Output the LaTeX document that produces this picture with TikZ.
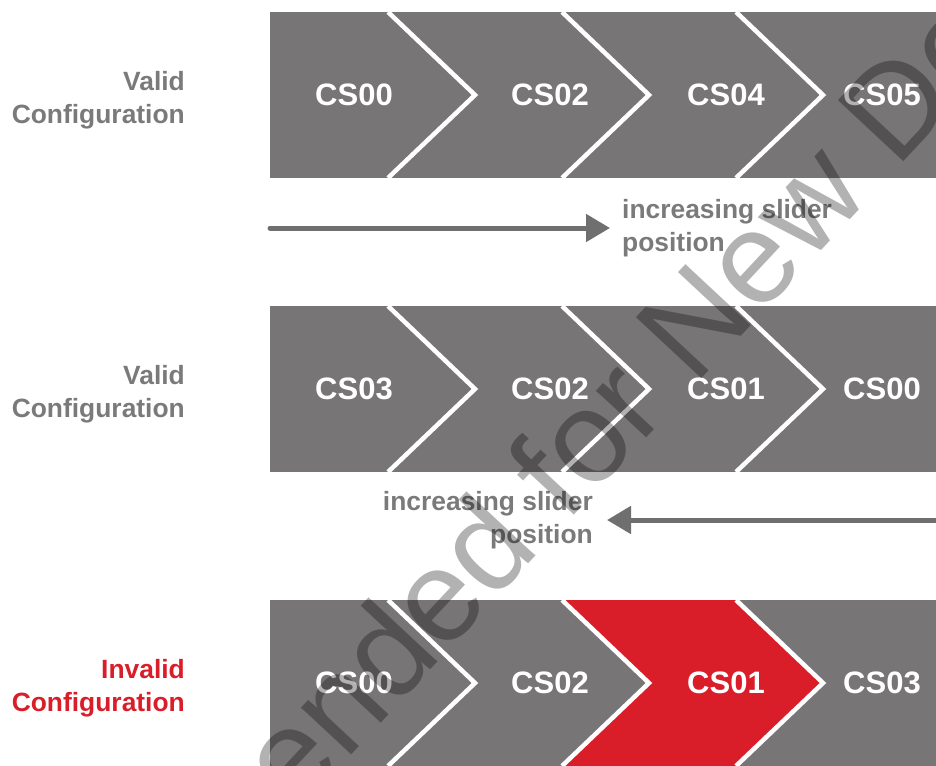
\documentclass[tikz,border=0pt]{standalone}
\usepackage{fontspec}
\setmainfont{Liberation Sans}
\usepackage{tikz}
\usetikzlibrary{arrows.meta}
\usetikzlibrary{positioning}
\definecolor{bandgray}{RGB}{120,117,118}
\definecolor{textgray}{RGB}{122,122,122}
\definecolor{arrowgray}{RGB}{112,111,111}
\definecolor{badred}{RGB}{217,30,42}
\tikzset{
 band/.style={fill=bandgray},
 divider/.style={white,line width=4.5pt},
 cslabel/.style={text=white,inner sep=0,font=\bfseries\fontsize{31}{31}\selectfont},
 rowlabel/.style={inner sep=0,align=right,font=\bfseries\fontsize{26.4}{33}\selectfont},
 slidearrow/.style={arrowgray,line width=5pt,line cap=round,-{Triangle[length=24pt,width=27pt]}},
 slidelabel/.style={text=textgray,inner sep=0,font=\bfseries\fontsize{26.4}{33}\selectfont},
 watermark/.style={black,opacity=.3,inner sep=0,rotate=47,font=\fontsize{130}{130}\selectfont}
}

\begin{document}
\begin{tikzpicture}[x=1pt,y=-1pt]
\useasboundingbox (0,0) rectangle (936,765);
\clip (0,0) rectangle (936,765);
\foreach \y in {12,306,600} {
 \fill[band] (270,\y) rectangle (940,\y+166);
}
\fill[badred] (562,600) -- (649,683) -- (562,766) -- (736,766) -- (823,683) -- (736,600) -- cycle;
\foreach \y in {12,306,600} {
 \foreach \x in {388,562,736} {
  \draw[divider] (\x,\y) -- (\x+87,\y+83) -- (\x,\y+166);
 }
}
\node[cslabel] (r1s1) at (354,95) {CS00};
\node[cslabel] (r1s2) at (550,95) {CS02};
\node[cslabel] (r1s3) at (726,95) {CS04};
\node[cslabel] (r1s4) at (882,95) {CS05};
\node[cslabel] (r2s1) at (354,389) {CS03};
\node[cslabel] (r2s2) at (550,389) {CS02};
\node[cslabel] (r2s3) at (726,389) {CS01};
\node[cslabel] (r2s4) at (882,389) {CS00};
\node[cslabel] (r3s1) at (354,683) {CS00};
\node[cslabel] (r3s2) at (550,683) {CS02};
\node[cslabel] (r3s3) at (726,683) {CS01};
\node[cslabel] (r3s4) at (882,683) {CS03};
\node[rowlabel,text=textgray,anchor=east] (r1cfg) at (185,100) {Valid\\Configuration};
\node[rowlabel,text=textgray,anchor=east] (r2cfg) at (185,394) {Valid\\Configuration};
\node[rowlabel,text=badred,anchor=east] (r3cfg) at (185,688) {Invalid\\Configuration};
\coordinate (a1from) at (270,228);
\coordinate (a1to) at (610,228);
\draw[slidearrow] (a1from) -- (a1to);
\node[slidelabel,align=left,right=12pt of a1to] (a1lbl) {increasing slider\\position};
\coordinate (a2from) at (940,520);
\coordinate (a2to) at (607,520);
\draw[slidearrow] (a2from) -- (a2to);
\node[slidelabel,align=right,left=14pt of a2to] (a2lbl) {increasing slider\\position};
\node[watermark,anchor=base west] (wm) at (695,386) {\llap{Not Recommended for }New Designs};
\end{tikzpicture}
\end{document}
